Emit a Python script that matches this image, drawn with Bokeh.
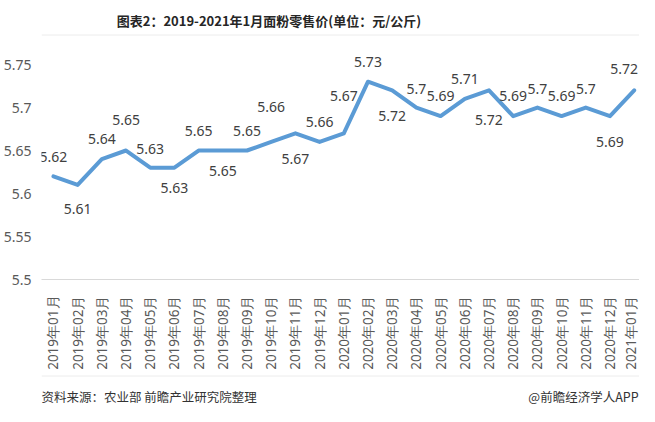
import math
from bokeh.plotting import figure
from bokeh.layouts import column
from bokeh.models import ColumnDataSource, Range1d, FixedTicker
from bokeh.core.properties import value
from bokeh.embed import file_html
from bokeh.resources import INLINE

months = ["2019年01月", "2019年02月", "2019年03月", "2019年04月", "2019年05月",
          "2019年06月", "2019年07月", "2019年08月", "2019年09月", "2019年10月",
          "2019年11月", "2019年12月", "2020年01月", "2020年02月", "2020年03月",
          "2020年04月", "2020年05月", "2020年06月", "2020年07月", "2020年08月",
          "2020年09月", "2020年10月", "2020年11月", "2020年12月", "2021年01月"]
prices = [5.62, 5.61, 5.64, 5.65, 5.63, 5.63, 5.65, 5.65, 5.65, 5.66,
          5.67, 5.66, 5.67, 5.73, 5.72, 5.70, 5.69, 5.71, 5.72, 5.69,
          5.70, 5.69, 5.70, 5.69, 5.72]
y_ticks = [5.5, 5.55, 5.6, 5.65, 5.7, 5.75]
y_tick_labels = ["5.5", "5.55", "5.6", "5.65", "5.7", "5.75"]
title_text = "图表2：2019-2021年1月面粉零售价(单位：元/公斤)"
source_text = "资料来源：农业部 前瞻产业研究院整理"
brand_text = "@前瞻经济学人APP"

# label placement style (pixel offsets; negative dy = above the point)
label_dy = [-19, 24, -20, -31, -19, 20, -20, 20, -20, -35,
            26, -20, -37, -20, 26, -19, -20, -20, 30, -20,
            -19, -20, -19, 26, -21]
label_dx = [0] * 24 + [-10]

W = 639
FRAME_LINE = "#ececec"


def blank(height):
    f = figure(width=W, height=height, output_backend="svg", toolbar_location=None,
               x_range=Range1d(0, W), y_range=Range1d(height, 0),
               x_axis_type=None, y_axis_type=None,
               min_border=0, min_border_left=0, min_border_right=0,
               min_border_top=0, min_border_bottom=0)
    f.outline_line_color = None
    f.xgrid.grid_line_color = None
    f.ygrid.grid_line_color = None
    return f


# header
header = blank(42)
header.text(x=[243], y=[20], text=[title_text], text_align="center",
            text_baseline="middle", text_font=value("Noto Sans CJK SC"),
            text_font_size="13px", text_font_style="bold", text_color="#262626")
header.segment(x0=[0], y0=[34.5], x1=[W], y1=[34.5], line_color=FRAME_LINE, line_width=1)

# main chart
idx = list(range(len(months)))
src = ColumnDataSource(dict(
    x=idx, y=prices,
    lab=[f"{v:g}" for v in prices],
    dy=label_dy, dx=label_dx,
))

p = figure(width=W, height=330, output_backend="svg", toolbar_location=None,
           x_range=Range1d(-0.493, 24.22), y_range=Range1d(5.5, 5.7756),
           min_border_left=38, min_border_right=0, min_border_top=0,
           min_border_bottom=93)
p.outline_line_color = None
p.xgrid.grid_line_color = None
p.ygrid.grid_line_color = None

p.line("x", "y", source=src, line_color="#5b9bd5", line_width=4,
       line_join="round", line_cap="round")
p.text("x", "y", text="lab", source=src, y_offset="dy", x_offset="dx",
       text_align="center", text_baseline="middle",
       text_font=value("Noto Sans"), text_font_size="14px", text_color="#404040")

p.yaxis.ticker = FixedTicker(ticks=y_ticks)
p.yaxis.major_label_overrides = {t: s for t, s in zip(y_ticks, y_tick_labels)}
p.yaxis.axis_line_color = None
p.yaxis.major_tick_line_color = None
p.yaxis.minor_tick_line_color = None
p.yaxis.major_tick_out = 0
p.yaxis.major_tick_in = 0
p.yaxis.major_label_standoff = 10
p.yaxis.major_label_text_font = "Noto Sans"
p.yaxis.major_label_text_font_size = "14px"
p.yaxis.major_label_text_color = "#595959"

p.xaxis.ticker = FixedTicker(ticks=idx)
p.xaxis.major_label_overrides = {i: m for i, m in zip(idx, months)}
p.xaxis.major_label_orientation = math.pi / 2
p.xaxis.axis_line_color = "#d9d9d9"
p.xaxis.axis_line_width = 1
p.xaxis.major_tick_line_color = None
p.xaxis.minor_tick_line_color = None
p.xaxis.major_tick_out = 0
p.xaxis.major_tick_in = 0
p.xaxis.major_label_standoff = 16
p.xaxis.major_label_text_font = "Noto Sans"
p.xaxis.major_label_text_font_size = "13.5px"
p.xaxis.major_label_text_color = "#595959"

# footer
footer = blank(34)
footer.segment(x0=[0], y0=[3.5], x1=[W], y1=[3.5], line_color=FRAME_LINE, line_width=1)
footer.text(x=[0], y=[24], text=[source_text], text_align="left",
            text_baseline="middle", text_font=value("Noto Sans CJK SC"),
            text_font_size="12.5px", text_color="#333333")
footer.text(x=[638], y=[24], text=[brand_text], text_align="right",
            text_baseline="middle", text_font=value("Noto Sans CJK SC"),
            text_font_size="12.5px", text_color="#333333")

layout = column(header, p, footer, spacing=0)
open("out.html", "w").write(file_html(layout, INLINE))
